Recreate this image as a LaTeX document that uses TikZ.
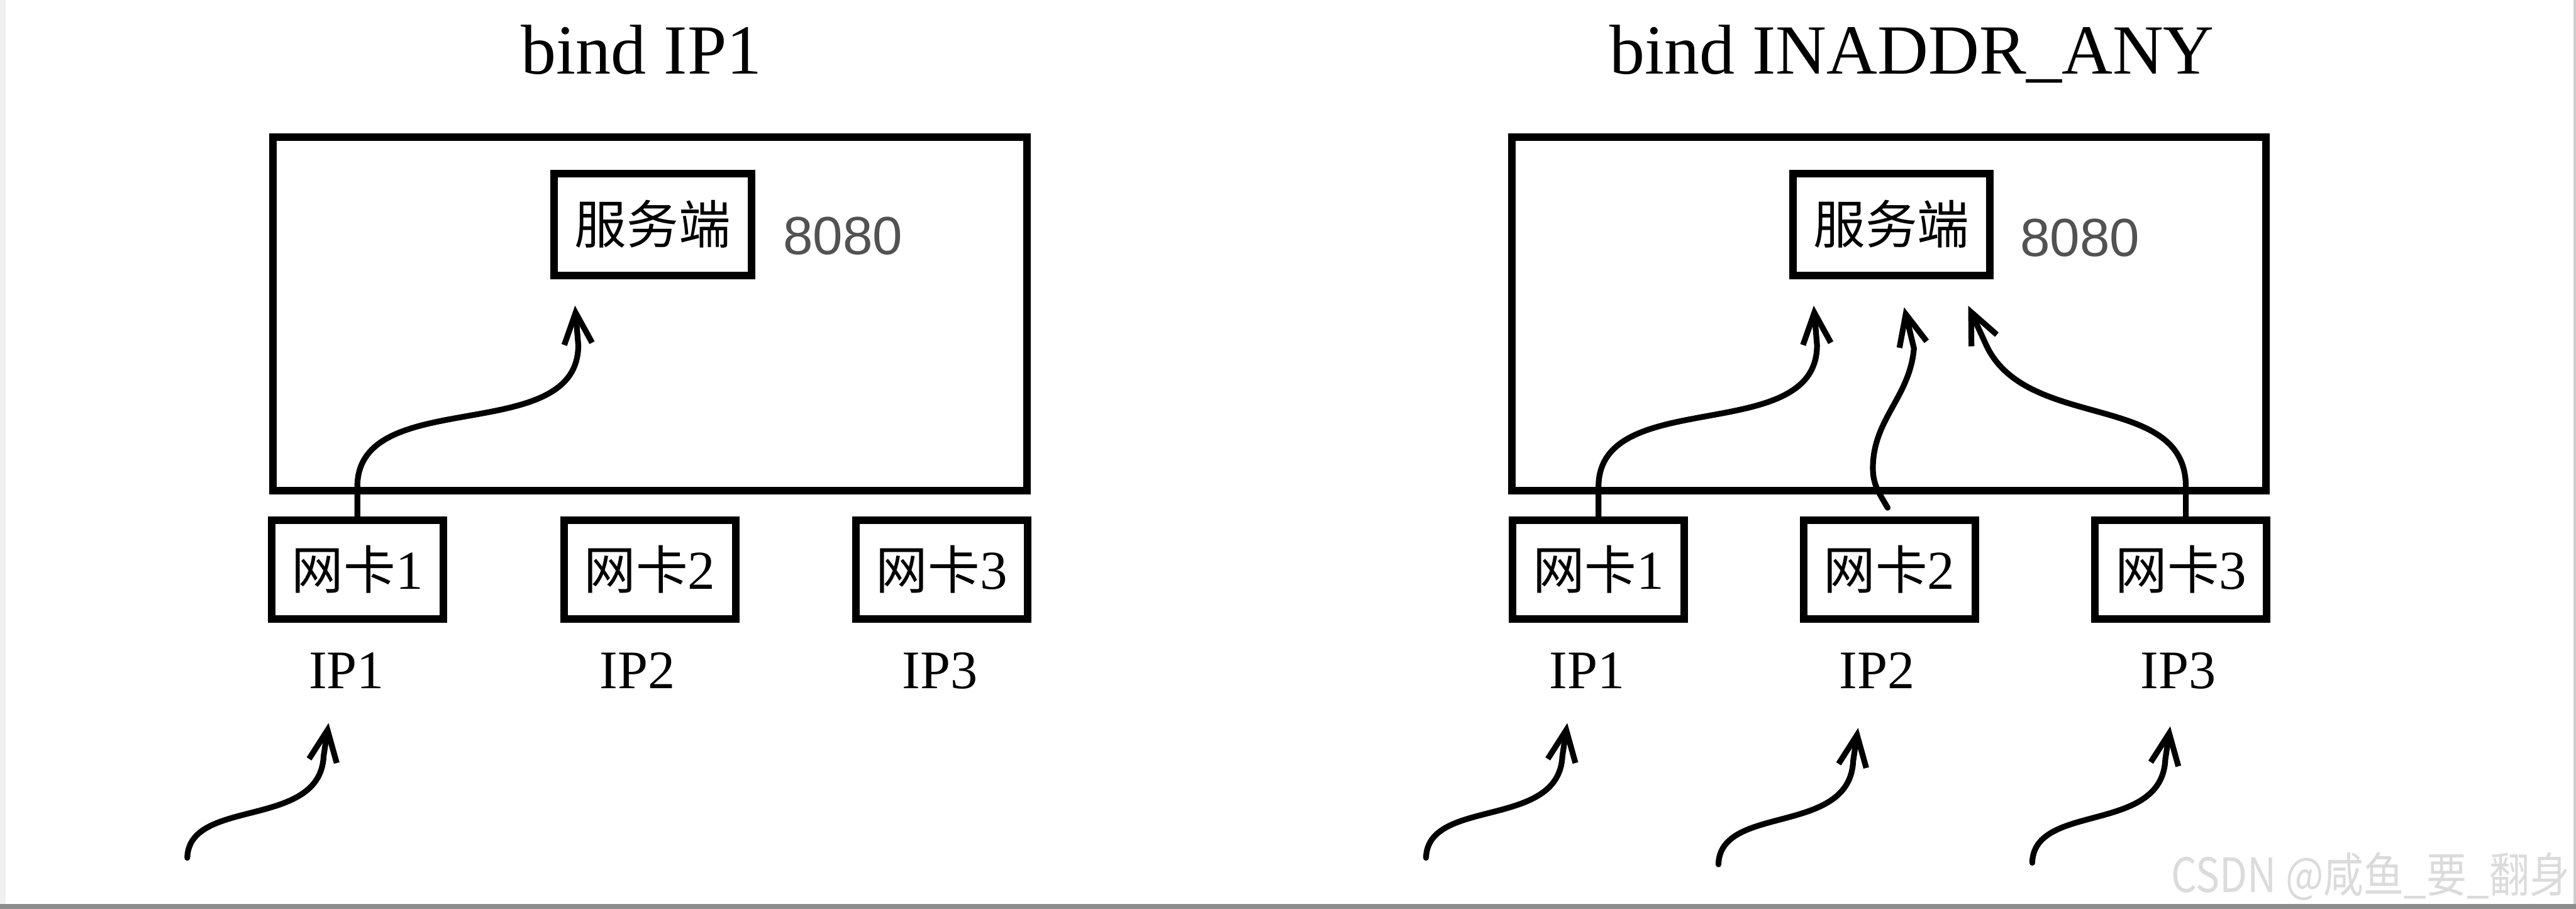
\documentclass[tikz,border=0pt]{standalone}
\usepackage{fontspec}
\setmainfont{Liberation Serif}
\newfontfamily\cjk{Noto Sans CJK SC}
\newfontfamily\portfont{Liberation Sans}
\usetikzlibrary{arrows.meta}

\newcommand{\wangka}[1]{{\cjk\fontsize{9}{9}\selectfont 网卡}#1}

\begin{document}
\begin{tikzpicture}[
  host/.style={draw=black, line width=1.3pt, minimum width=4.59cm, minimum height=2.15cm, inner sep=0pt},
  srvbox/.style={draw=black, line width=1.3pt, minimum width=1.20cm, minimum height=0.62cm, inner sep=0pt, font=\cjk\fontsize{9}{9}\selectfont},
  nicbox/.style={draw=black, line width=1.3pt, minimum width=1.045cm, minimum height=0.60cm, inner sep=0pt, font=\fontsize{9.5}{9.5}\selectfont},
  iplabel/.style={anchor=base, inner sep=0pt, font=\fontsize{9.4}{9.4}\selectfont},
  portlabel/.style={anchor=base west, inner sep=0pt, text=black!68, font=\portfont\fontsize{9.3}{9.3}\selectfont},
  heading/.style={anchor=base, inner sep=0pt, font=\fontsize{12.2}{12.2}\selectfont},
  flow/.style={line width=1pt, line cap=round, -{Straight Barb[length=1.9mm, width=1.7mm]}}
]
\useasboundingbox (0,0) rectangle (15.68,-5.53);
% page edges
\fill[black!45] (0,-5.50) rectangle (15.68,-5.53);
\fill[black!6] (0,0) rectangle (0.035,-5.50);
\fill[black!20] (15.665,0) rectangle (15.68,-5.50);

\begin{scope}
\node[heading] (headL) at (3.905,-0.45) {bind IP1};
\node[host] (hostL) at (3.957,-1.91) {};
\node[srvbox] (srvL) at (3.973,-1.365) {服务端};
\node[portlabel] (portL) at (4.76,-1.55) {8080};
\node[nicbox] (nicLa) at (2.175,-3.465) {\wangka{1}};
\node[nicbox] (nicLb) at (3.955,-3.465) {\wangka{2}};
\node[nicbox] (nicLc) at (5.732,-3.465) {\wangka{3}};
\node[iplabel] (ipLa) at (2.11,-4.19) {IP1};
\node[iplabel] (ipLb) at (3.88,-4.19) {IP2};
\node[iplabel] (ipLc) at (5.72,-4.19) {IP3};
\coordinate (toSrvL) at (3.50,-1.86);
\draw[flow] (nicLa.north) -- ++(0,0.18) to[out=90,in=-90] (3.52,-2.10) -- (toSrvL);
\coordinate (inLa) at (1.14,-5.22);
\coordinate (toIpLa) at (2.00,-4.40);
\draw[flow] (inLa) .. controls (1.15,-4.85) and (1.95,-5.05) .. (1.97,-4.60) -- (toIpLa);
\end{scope}

\begin{scope}[xshift=7.54cm]
\node[heading] (headR) at (4.098,-0.45) {bind INADDR\_ANY};
\node[host] (hostR) at (3.957,-1.91) {};
\node[srvbox] (srvR) at (3.973,-1.365) {服务端};
\node[portlabel] (portR) at (4.75,-1.56) {8080};
\node[nicbox] (nicRa) at (2.19,-3.465) {\wangka{1}};
\node[nicbox] (nicRb) at (3.96,-3.465) {\wangka{2}};
\node[nicbox] (nicRc) at (5.735,-3.465) {\wangka{3}};
\node[iplabel] (ipRa) at (2.12,-4.19) {IP1};
\node[iplabel] (ipRb) at (3.885,-4.19) {IP2};
\node[iplabel] (ipRc) at (5.72,-4.19) {IP3};
\coordinate (toSrvRa) at (3.50,-1.86);
\coordinate (fromRb) at (3.95,-3.09);
\coordinate (toSrvRb) at (4.05,-1.87);
\coordinate (toSrvRc) at (4.44,-1.86);
\draw[flow] (nicRa.north) -- ++(0,0.18) to[out=90,in=-90] (3.52,-2.10) -- (toSrvRa);
\draw[flow] (fromRb) to[out=120,in=-90] (3.86,-2.85) to[out=90,in=-95] (4.11,-2.12) -- (toSrvRb);
\draw[flow] ([xshift=0.03cm]nicRc.north) -- ++(0,0.18) to[out=90,in=-65] (4.55,-2.10) -- (toSrvRc);
\coordinate (inRa) at (1.14,-5.22);
\coordinate (toIpRa) at (2.00,-4.40);
\coordinate (inRb) at (2.92,-5.26);
\coordinate (toIpRb) at (3.77,-4.43);
\coordinate (inRc) at (4.83,-5.25);
\coordinate (toIpRc) at (5.67,-4.42);
\draw[flow] (inRa) .. controls (1.15,-4.85) and (1.95,-5.05) .. (1.97,-4.60) -- (toIpRa);
\draw[flow] (inRb) .. controls (2.93,-4.89) and (3.72,-5.09) .. (3.74,-4.63) -- (toIpRb);
\draw[flow] (inRc) .. controls (4.84,-4.88) and (5.62,-5.08) .. (5.64,-4.62) -- (toIpRc);
\end{scope}

\node[anchor=base east, inner sep=0pt, text=black!14, font=\cjk\fontsize{8.2}{8.2}\selectfont] (mark) at (15.65,-5.43) {\scalebox{0.85}[1]{CSDN @咸鱼\_要\_翻身}};
\end{tikzpicture}
\end{document}
